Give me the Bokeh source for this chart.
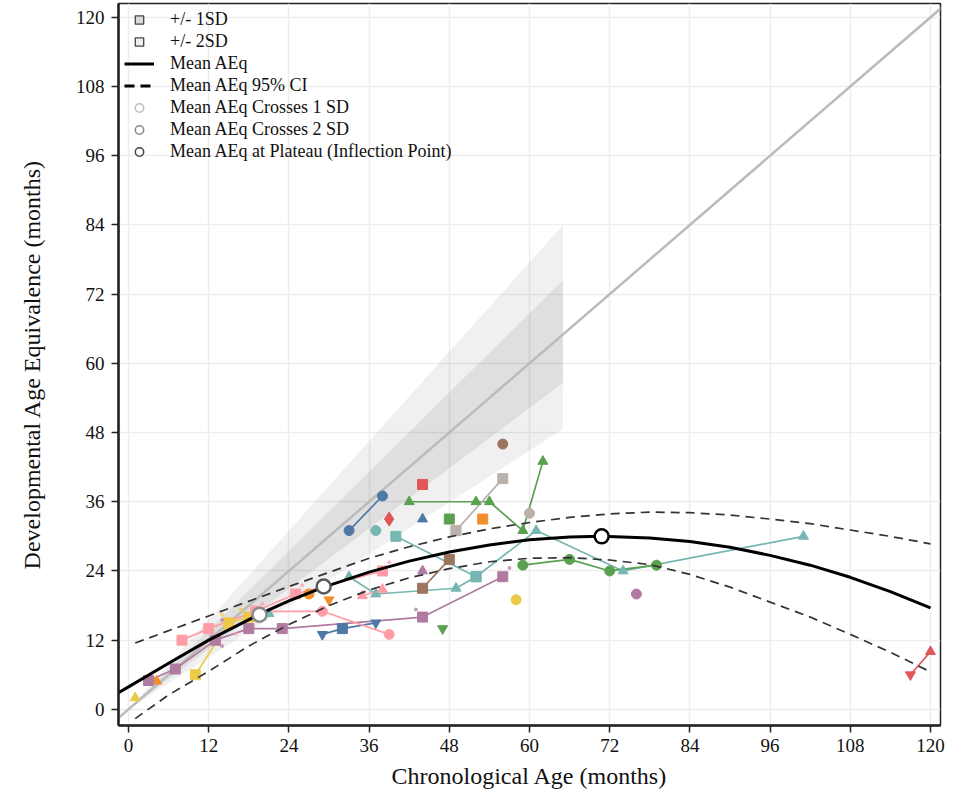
from bokeh.plotting import figure
from bokeh.models import ColumnDataSource, Legend, LegendItem, Range1d, FixedTicker
from bokeh.embed import file_html
from bokeh.resources import INLINE

FONT = "Liberation Serif"
NAN = float("nan")

# ---------------- data ----------------
tick_vals = [0, 12, 24, 36, 48, 60, 72, 84, 96, 108, 120]

identity_x = [-5, 125]
identity_y = [-5, 125]

band_x = [0, 65]
sd1_lower = [0, 56.6]
sd1_upper = [0, 74.4]
sd2_lower = [0, 48.6]
sd2_upper = [0, 84.0]

mean_x = [-1.5, 0, 6, 12, 19.6, 24, 29.2, 36, 42, 48, 54, 60, 66, 70.8, 78, 84, 90, 96, 102, 108, 114, 120]
mean_y = [2.9, 3.9, 8.0, 12.0, 16.5, 18.8, 21.2, 23.8, 25.7, 27.3, 28.5, 29.4, 29.9, 30.0, 29.7, 29.1, 28.1, 26.7, 25.0, 22.9, 20.4, 17.6]

ci_up_x = [1, 12, 24, 28.4, 36, 42, 48, 54, 60, 66, 72, 78, 84, 90, 96, 102, 108, 114, 120]
ci_up_y = [11.5, 16.2, 21.3, 23.1, 26.2, 28.2, 29.9, 31.3, 32.4, 33.3, 33.9, 34.2, 34.1, 33.7, 33.0, 32.2, 31.1, 30.0, 28.7]

ci_lo_x = [1, 6, 12, 18, 24, 30, 36, 42, 48, 54, 60, 66, 72, 78, 84, 90, 96, 102, 108, 114, 120]
ci_lo_y = [-1.6, 2.5, 6.6, 11.0, 14.7, 18.0, 20.7, 22.8, 24.4, 25.6, 26.2, 26.3, 25.9, 25.1, 23.4, 21.2, 18.6, 16.0, 13.0, 9.9, 6.5]

cross1_x = [19.6]
cross1_y = [16.4]
cross2_x = [29.2]
cross2_y = [21.3]
plateau_x = [70.8]
plateau_y = [30.0]

BLUE, ORANGE, RED, TEAL, GREEN = "#4E79A7", "#F28E2B", "#E15759", "#76B7B2", "#59A14F"
YELLOW, PURPLE, PINK, BROWN, GREY = "#EDC948", "#B07AA1", "#FF9DA7", "#9C755F", "#BAB0AC"

# participant series: x, y, markers
blue_a_x = [33, 38];            blue_a_y = [31, 37];           blue_a_m = ["circle", "circle"]
blue_b_x = [29, 32, 37];        blue_b_y = [13, 14, 15];       blue_b_m = ["inverted_triangle", "square", "inverted_triangle"]
blue_c_x = [44];                blue_c_y = [33];               blue_c_m = ["triangle"]
red_a_x = [44];                 red_a_y = [39];                red_a_m = ["square"]
red_b_x = [39];                 red_b_y = [33];                red_b_m = ["diamond"]
red_c_x = [117, 120];           red_c_y = [6, 10];             red_c_m = ["inverted_triangle", "triangle"]
teal_a_x = [40, 52, 61, 74, 101]; teal_a_y = [30, 23, 31, 24, 30]; teal_a_m = ["square", "square", "triangle", "triangle", "triangle"]
teal_b_x = [33, 37, 49, 52];    teal_b_y = [23, 20, 21, 23];   teal_b_m = ["triangle", "triangle", "triangle", "square"]
teal_c_x = [37];                teal_c_y = [31];               teal_c_m = ["circle"]
teal_d_x = [21];                teal_d_y = [16.6];             teal_d_m = ["triangle"]
green_a_x = [42, 52, 54, 59, 62]; green_a_y = [36, 36, 36, 31, 43]; green_a_m = ["triangle"] * 5
green_b_x = [48];               green_b_y = [33];              green_b_m = ["square"]
green_c_x = [47];               green_c_y = [14];              green_c_m = ["inverted_triangle"]
green_d_x = [59, 66, 72, 79];   green_d_y = [25, 26, 24, 25];  green_d_m = ["circle"] * 4
orange_a_x = [53];              orange_a_y = [33];             orange_a_m = ["square"]
orange_b_x = [27];              orange_b_y = [20];             orange_b_m = ["circle"]
orange_c_x = [30];              orange_c_y = [19];             orange_c_m = ["inverted_triangle"]
orange_d_x = [4.2];             orange_d_y = [4.9];            orange_d_m = ["triangle"]
yellow_a_x = [1];               yellow_a_y = [2];              yellow_a_m = ["triangle"]
yellow_b_x = [10, 15, 18];      yellow_b_y = [6, 15, 16];      yellow_b_m = ["square"] * 3
yellow_c_x = [58];              yellow_c_y = [19];             yellow_c_m = ["circle"]
purple_a_x = [3, 7, 13, 18, 23, 44, 56]; purple_a_y = [5, 7, 12, 14, 14, 16, 23]; purple_a_m = ["square"] * 7
purple_b_x = [44];              purple_b_y = [24];             purple_b_m = ["triangle"]
purple_c_x = [76];              purple_c_y = [20];             purple_c_m = ["circle"]
pink_a_x = [8, 12, 19, 25, 38]; pink_a_y = [12, 14, 17, 20, 24]; pink_a_m = ["square"] * 5
pink_b_x = [19, 29, 39];        pink_b_y = [17, 17, 13];       pink_b_m = ["square", "circle", "circle"]
pink_c_x = [35, 38];            pink_c_y = [19.7, 20.8];       pink_c_m = ["triangle", "triangle"]
brown_a_x = [56];               brown_a_y = [46];              brown_a_m = ["circle"]
brown_b_x = [44, 48];           brown_b_y = [21, 26];          brown_b_m = ["square", "square"]
grey_a_x = [49, 56];            grey_a_y = [31, 40];           grey_a_m = ["square", "square"]
grey_b_x = [60];                grey_b_y = [34];               grey_b_m = ["circle"]

series = [
    (BLUE, blue_a_x, blue_a_y, blue_a_m), (BLUE, blue_b_x, blue_b_y, blue_b_m), (BLUE, blue_c_x, blue_c_y, blue_c_m),
    (RED, red_a_x, red_a_y, red_a_m), (RED, red_b_x, red_b_y, red_b_m), (RED, red_c_x, red_c_y, red_c_m),
    (TEAL, teal_a_x, teal_a_y, teal_a_m), (TEAL, teal_b_x, teal_b_y, teal_b_m), (TEAL, teal_c_x, teal_c_y, teal_c_m),
    (TEAL, teal_d_x, teal_d_y, teal_d_m),
    (GREEN, green_a_x, green_a_y, green_a_m), (GREEN, green_b_x, green_b_y, green_b_m), (GREEN, green_c_x, green_c_y, green_c_m),
    (GREEN, green_d_x, green_d_y, green_d_m),
    (ORANGE, orange_a_x, orange_a_y, orange_a_m), (ORANGE, orange_b_x, orange_b_y, orange_b_m),
    (ORANGE, orange_c_x, orange_c_y, orange_c_m), (ORANGE, orange_d_x, orange_d_y, orange_d_m),
    (YELLOW, yellow_a_x, yellow_a_y, yellow_a_m), (YELLOW, yellow_b_x, yellow_b_y, yellow_b_m), (YELLOW, yellow_c_x, yellow_c_y, yellow_c_m),
    (PURPLE, purple_a_x, purple_a_y, purple_a_m), (PURPLE, purple_b_x, purple_b_y, purple_b_m), (PURPLE, purple_c_x, purple_c_y, purple_c_m),
    (PINK, pink_a_x, pink_a_y, pink_a_m), (PINK, pink_b_x, pink_b_y, pink_b_m), (PINK, pink_c_x, pink_c_y, pink_c_m),
    (BROWN, brown_a_x, brown_a_y, brown_a_m), (BROWN, brown_b_x, brown_b_y, brown_b_m),
    (GREY, grey_a_x, grey_a_y, grey_a_m), (GREY, grey_b_x, grey_b_y, grey_b_m),
]

# small faint observations
dot_x = [14, 16.8, 14, 14, 26, 20, 16, 39, 43, 57]
dot_y = [16.4, 17.3, 15.5, 11, 21.5, 18.3, 13.1, 25.5, 17.3, 24.5]
dot_c = [YELLOW, YELLOW, PURPLE, PURPLE, PINK, PINK, PINK, PINK, PURPLE, PURPLE]

# ---------------- figure ----------------
p = figure(width=945, height=791, output_backend="svg", toolbar_location=None,
           x_range=Range1d(-1.5, 121.5), y_range=Range1d(-2.8, 122.4),
           min_border_left=118, min_border_right=5, min_border_top=3, min_border_bottom=50)
p.background_fill_color = "white"
p.outline_line_color = "#222222"
p.outline_line_width = 1.5

for ax in (p.xaxis[0], p.yaxis[0]):
    ax.ticker = FixedTicker(ticks=tick_vals)
    ax.minor_tick_line_color = None
    ax.major_tick_out = 7
    ax.major_tick_in = 0
    ax.major_tick_line_width = 1.5
    ax.axis_line_width = 2.5
    ax.axis_line_color = "#222222"
    ax.major_tick_line_color = "#222222"
    ax.major_label_text_font = FONT
    ax.major_label_text_font_size = "19px"
    ax.major_label_text_color = "#111111"
    ax.axis_label_text_font = FONT
    ax.axis_label_text_font_size = "24px"
    ax.axis_label_text_font_style = "normal"
    ax.axis_label_text_color = "#111111"
p.xaxis.axis_label = "Chronological Age (months)"
p.yaxis.axis_label = "Developmental Age Equivalence (months)"
p.xaxis.major_label_standoff = 6
p.yaxis.major_label_standoff = 7
p.xaxis.axis_label_standoff = 8
p.yaxis.axis_label_standoff = 28

p.grid.grid_line_color = "#EDEDED"
p.grid.grid_line_width = 1.5
p.xgrid.ticker = FixedTicker(ticks=tick_vals)
p.ygrid.ticker = FixedTicker(ticks=tick_vals)

# bands
p.varea(x=band_x, y1=sd2_lower, y2=sd2_upper, fill_color="#000000", fill_alpha=0.06)
p.varea(x=band_x, y1=sd1_lower, y2=sd1_upper, fill_color="#000000", fill_alpha=0.07)

# identity line
p.line(identity_x, identity_y, line_color="#BBBBBB", line_width=2.5)

# participant data
for color, xs, ys, ms in series:
    if len(xs) > 1:
        p.line(xs, ys, line_color=color, line_width=1.7)
for color, xs, ys, ms in series:
    sizes = [14 if m == "diamond" else 10 for m in ms]
    src = ColumnDataSource(dict(x=xs, y=ys, m=ms, s=sizes))
    p.scatter("x", "y", source=src, marker="m", size="s", fill_color=color, line_color=color)

p.scatter(dot_x, dot_y, size=4, fill_color=dot_c, line_color=None, fill_alpha=0.7)

# CI and mean
p.line(ci_up_x, ci_up_y, line_color="#333333", line_width=1.7, line_dash="9 6")
p.line(ci_lo_x, ci_lo_y, line_color="#333333", line_width=1.7, line_dash="9 6")
p.line(mean_x, mean_y, line_color="black", line_width=3)

p.scatter(cross1_x, cross1_y, size=14, fill_color="white", line_color="#8A8A8A", line_width=2.5)
p.scatter(cross2_x, cross2_y, size=14, fill_color="white", line_color="#5A5A5A", line_width=2.5)
p.scatter(plateau_x, plateau_y, size=14, fill_color="white", line_color="black", line_width=2.5)

# legend proxies (not visible in the plot area)
r_sd1 = p.scatter(x=[NAN], y=[NAN], marker="square", size=12, fill_color="#D9D9D9", line_color="#444444", line_width=1.3)
r_sd2 = p.scatter(x=[NAN], y=[NAN], marker="square", size=12, fill_color="#EFEFEF", line_color="#444444", line_width=1.3)
r_mean = p.line(x=[NAN, NAN], y=[NAN, NAN], line_color="black", line_width=3)
r_ci = p.line(x=[NAN, NAN], y=[NAN, NAN], line_color="black", line_width=3, line_dash="10 6")
r_c1 = p.scatter(x=[NAN], y=[NAN], size=8, fill_color="white", line_color="#BBBBBB", line_width=1.5)
r_c2 = p.scatter(x=[NAN], y=[NAN], size=8, fill_color="white", line_color="#888888", line_width=1.5)
r_pl = p.scatter(x=[NAN], y=[NAN], size=8, fill_color="white", line_color="#444444", line_width=1.5)

legend = Legend(items=[
    LegendItem(label="+/- 1SD", renderers=[r_sd1]),
    LegendItem(label="+/- 2SD", renderers=[r_sd2]),
    LegendItem(label="Mean AEq", renderers=[r_mean]),
    LegendItem(label="Mean AEq 95% CI", renderers=[r_ci]),
    LegendItem(label="Mean AEq Crosses 1 SD", renderers=[r_c1]),
    LegendItem(label="Mean AEq Crosses 2 SD", renderers=[r_c2]),
    LegendItem(label="Mean AEq at Plateau (Inflection Point)", renderers=[r_pl]),
], location="top_left")
legend.background_fill_alpha = 0
legend.border_line_alpha = 0
legend.label_text_font = FONT
legend.label_text_font_size = "18px"
legend.label_text_color = "#111111"
legend.glyph_width = 30
legend.glyph_height = 21
legend.label_height = 21
legend.spacing = 1
legend.label_standoff = 16
legend.margin = 0
legend.padding = 6
p.add_layout(legend)

open("out.html", "w").write(file_html(p, INLINE))
